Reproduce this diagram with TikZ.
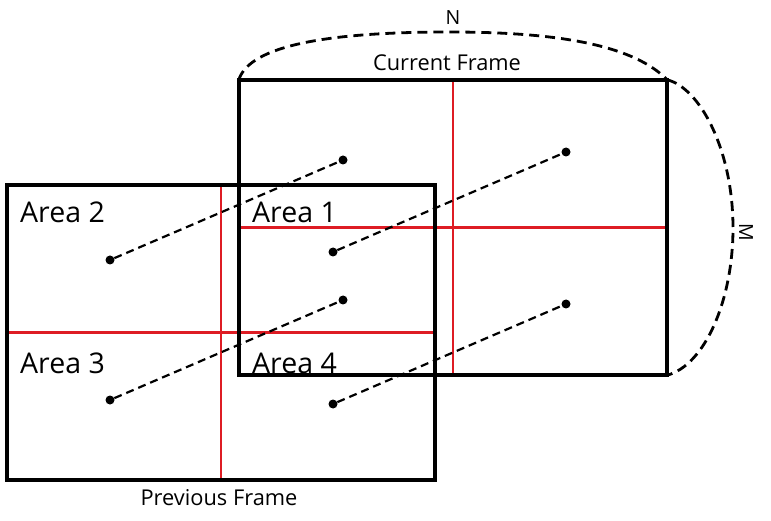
\documentclass[tikz,border=0pt]{standalone}
\usepackage{fontspec}
\setmainfont{Open Sans}
\definecolor{redline}{RGB}{222,28,36}
\begin{document}
\begin{tikzpicture}[x=1pt,y=-1pt,
  frame/.style={draw=black,line width=3.2pt,inner sep=0pt,rectangle},
  divider/.style={draw=redline,line width=2.8pt},
  dot/.style={circle,fill=black,inner sep=0pt,minimum size=9pt},
  conn/.style={draw=black,line width=2.2pt,dash pattern=on 8pt off 5pt},
  arcline/.style={draw=black,line width=2.8pt,dash pattern=on 10pt off 6pt},
  area/.style={font=\fontsize{28.5}{32}\selectfont,inner sep=0pt,anchor=base west},
  caption/.style={font=\fontsize{21.8}{25}\selectfont,inner sep=0pt,anchor=base}]
\useasboundingbox (0,0) rectangle (771,521);
% frames (geometry)
\node[minimum width=428pt,minimum height=295pt,inner sep=0pt] (prev) at (221,332.5) {};
\node[minimum width=428pt,minimum height=295pt,inner sep=0pt] (cur) at (453,227.5) {};
% red dividers
\draw[divider] (prev.north) -- (prev.south);
\draw[divider] (prev.west) -- (prev.east);
\draw[divider] (cur.north) -- (cur.south);
\draw[divider] (cur.west) -- (cur.east);
% black outlines
\node[frame,minimum width=428pt,minimum height=295pt] at (prev) {};
\node[frame,minimum width=428pt,minimum height=295pt] at (cur) {};
% labels
\node[area] (a2) at (20,223) {Area 2};
\node[area] (a1) at (252,223) {Area 1};
\node[area] (a3) at (20,373) {Area 3};
\node[area] (a4) at (252,373) {Area 4};
\node[caption] (curlbl) at (447,71) {Current Frame};
\node[caption] (prevlbl) at (219,505) {Previous Frame};
\node[caption,font=\fontsize{19.5}{22}\selectfont] (nlbl) at (453,25) {N};
\node[caption,font=\fontsize{19.5}{22}\selectfont,anchor=center,rotate=-90] (mlbl) at (746,232) {M};
% dots
\node[dot] (p1) at (110,260) {};
\node[dot] (p2) at (333,252) {};
\node[dot] (p3) at (110,400) {};
\node[dot] (p4) at (333,404) {};
\node[dot] (c1) at (343,160) {};
\node[dot] (c2) at (566,152) {};
\node[dot] (c3) at (343,300) {};
\node[dot] (c4) at (566,304) {};
% motion connectors
\draw[conn] (p1) -- (c1);
\draw[conn] (p2) -- (c2);
\draw[conn] (p3) -- (c3);
\draw[conn] (p4) -- (c4);
% N and M extents
\coordinate (ntop) at (450,32);
\coordinate (mright) at (733,228);
\draw[arcline] (cur.north west) .. controls (250,45) and (330,32) .. (ntop)
  .. controls (565,32) and (635,47) .. (cur.north east);
\draw[arcline] (cur.north east) .. controls (700,88) and (733,150) .. (mright)
  .. controls (733,300) and (705,365) .. (cur.south east);
\end{tikzpicture}
\end{document}
